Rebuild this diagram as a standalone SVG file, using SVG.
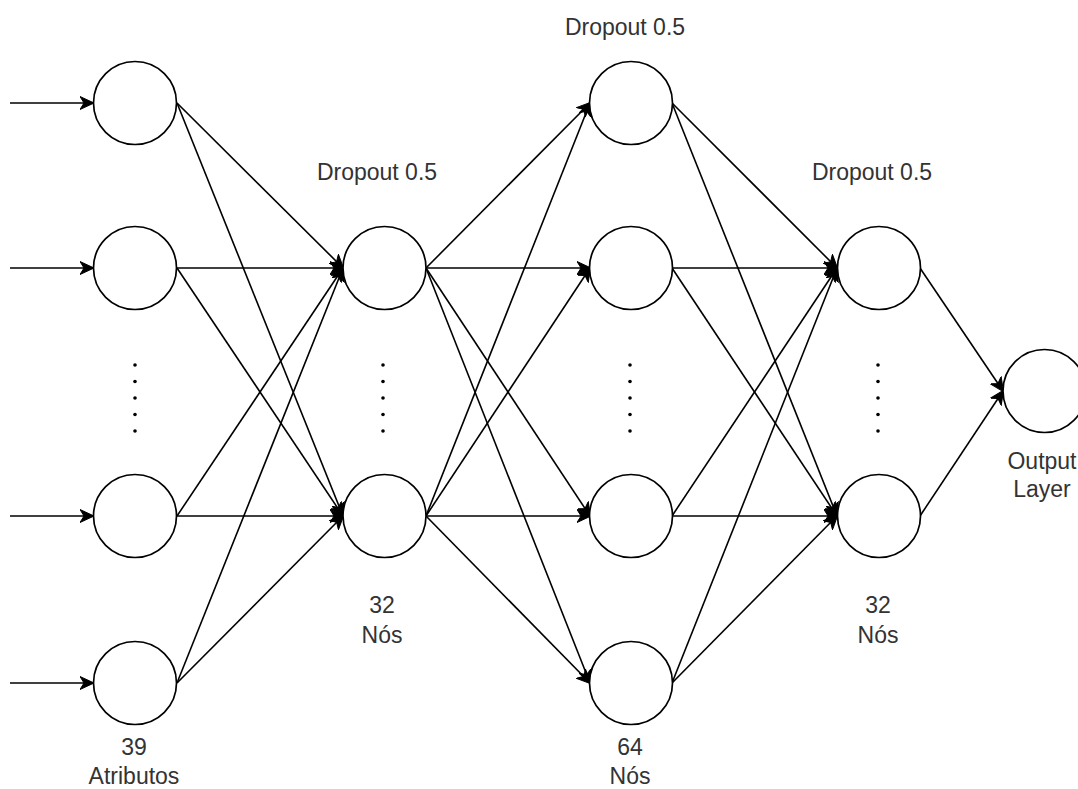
<svg xmlns="http://www.w3.org/2000/svg" width="1078" height="789" viewBox="0 0 1078 789">
<style>
.n{fill:#fff;stroke:#000;stroke-width:1.7}
.e{fill:none;stroke:#000;stroke-width:1.6;marker-end:url(#arr)}
.d{fill:#000}
.t{font-family:"Liberation Sans",Arial,sans-serif;font-size:23px;fill:#333;text-anchor:middle}
</style>
<defs>
<marker id="arr" viewBox="0 0 14 14" refX="13" refY="7" markerWidth="14" markerHeight="14" markerUnits="userSpaceOnUse" orient="auto">
<path d="M0,0.5 L14,7 L0,13.5 L4,7 Z" fill="#000" stroke="#000" stroke-width="1"/>
</marker>
</defs>
<rect width="1078" height="789" fill="#fff"/>
<g id="connectors">
<line class="e" x1="10" y1="103" x2="93" y2="103"/>
<line class="e" x1="10" y1="268" x2="93" y2="268"/>
<line class="e" x1="10" y1="516" x2="93" y2="516"/>
<line class="e" x1="10" y1="683" x2="93" y2="683"/>
<line class="e" x1="177" y1="103" x2="343" y2="268"/>
<line class="e" x1="177" y1="103" x2="343" y2="516"/>
<line class="e" x1="177" y1="268" x2="343" y2="268"/>
<line class="e" x1="177" y1="268" x2="343" y2="516"/>
<line class="e" x1="177" y1="516" x2="343" y2="268"/>
<line class="e" x1="177" y1="516" x2="343" y2="516"/>
<line class="e" x1="177" y1="683" x2="343" y2="268"/>
<line class="e" x1="177" y1="683" x2="343" y2="516"/>
<line class="e" x1="426" y1="268" x2="590" y2="103"/>
<line class="e" x1="426" y1="268" x2="590" y2="268"/>
<line class="e" x1="426" y1="268" x2="590" y2="516"/>
<line class="e" x1="426" y1="268" x2="590" y2="683"/>
<line class="e" x1="426" y1="516" x2="590" y2="103"/>
<line class="e" x1="426" y1="516" x2="590" y2="268"/>
<line class="e" x1="426" y1="516" x2="590" y2="516"/>
<line class="e" x1="426" y1="516" x2="590" y2="683"/>
<line class="e" x1="672" y1="103" x2="837" y2="268"/>
<line class="e" x1="672" y1="103" x2="837" y2="516"/>
<line class="e" x1="672" y1="268" x2="837" y2="268"/>
<line class="e" x1="672" y1="268" x2="837" y2="516"/>
<line class="e" x1="672" y1="516" x2="837" y2="268"/>
<line class="e" x1="672" y1="516" x2="837" y2="516"/>
<line class="e" x1="672" y1="683" x2="837" y2="268"/>
<line class="e" x1="672" y1="683" x2="837" y2="516"/>
<line class="e" x1="920" y1="268" x2="1003" y2="391"/>
<line class="e" x1="920" y1="516" x2="1003" y2="391"/>
</g>
<g id="in1"><circle class="n" cx="135" cy="103" r="41.5"/></g>
<g id="in2"><circle class="n" cx="135" cy="268" r="41.5"/></g>
<g id="in3"><circle class="n" cx="135" cy="516" r="41.5"/></g>
<g id="in4"><circle class="n" cx="135" cy="683" r="41.5"/></g>
<g id="h1a"><circle class="n" cx="384.5" cy="268" r="41.5"/></g>
<g id="h1b"><circle class="n" cx="384.5" cy="516" r="41.5"/></g>
<g id="h2a"><circle class="n" cx="631" cy="103" r="41.5"/></g>
<g id="h2b"><circle class="n" cx="631" cy="268" r="41.5"/></g>
<g id="h2c"><circle class="n" cx="631" cy="516" r="41.5"/></g>
<g id="h2d"><circle class="n" cx="631" cy="683" r="41.5"/></g>
<g id="h3a"><circle class="n" cx="879" cy="268" r="41.5"/></g>
<g id="h3b"><circle class="n" cx="879" cy="516" r="41.5"/></g>
<g id="out"><circle class="n" cx="1044.5" cy="391" r="41.5"/></g>
<g id="dots1"><circle class="d" cx="135" cy="365" r="1.8"/><circle class="d" cx="135" cy="381.5" r="1.8"/><circle class="d" cx="135" cy="398" r="1.8"/><circle class="d" cx="135" cy="414.5" r="1.8"/><circle class="d" cx="135" cy="431" r="1.8"/></g>
<g id="dots2"><circle class="d" cx="383" cy="365" r="1.8"/><circle class="d" cx="383" cy="381.5" r="1.8"/><circle class="d" cx="383" cy="398" r="1.8"/><circle class="d" cx="383" cy="414.5" r="1.8"/><circle class="d" cx="383" cy="431" r="1.8"/></g>
<g id="dots3"><circle class="d" cx="630" cy="365" r="1.8"/><circle class="d" cx="630" cy="381.5" r="1.8"/><circle class="d" cx="630" cy="398" r="1.8"/><circle class="d" cx="630" cy="414.5" r="1.8"/><circle class="d" cx="630" cy="431" r="1.8"/></g>
<g id="dots4"><circle class="d" cx="878" cy="365" r="1.8"/><circle class="d" cx="878" cy="381.5" r="1.8"/><circle class="d" cx="878" cy="398" r="1.8"/><circle class="d" cx="878" cy="414.5" r="1.8"/><circle class="d" cx="878" cy="431" r="1.8"/></g>
<g id="lbl-drop1"><text class="t" x="377" y="180">Dropout 0.5</text></g>
<g id="lbl-drop2"><text class="t" x="625" y="35">Dropout 0.5</text></g>
<g id="lbl-drop3"><text class="t" x="872" y="180">Dropout 0.5</text></g>
<g id="lbl-in"><text class="t" x="134" y="755">39</text><text class="t" x="134" y="784">Atributos</text></g>
<g id="lbl-h1"><text class="t" x="382" y="613">32</text><text class="t" x="382" y="643">Nós</text></g>
<g id="lbl-h2"><text class="t" x="630" y="755">64</text><text class="t" x="630" y="784">Nós</text></g>
<g id="lbl-h3"><text class="t" x="878" y="613">32</text><text class="t" x="878" y="643">Nós</text></g>
<g id="lbl-out"><text class="t" x="1042" y="469">Output</text><text class="t" x="1042" y="497">Layer</text></g>
</svg>
